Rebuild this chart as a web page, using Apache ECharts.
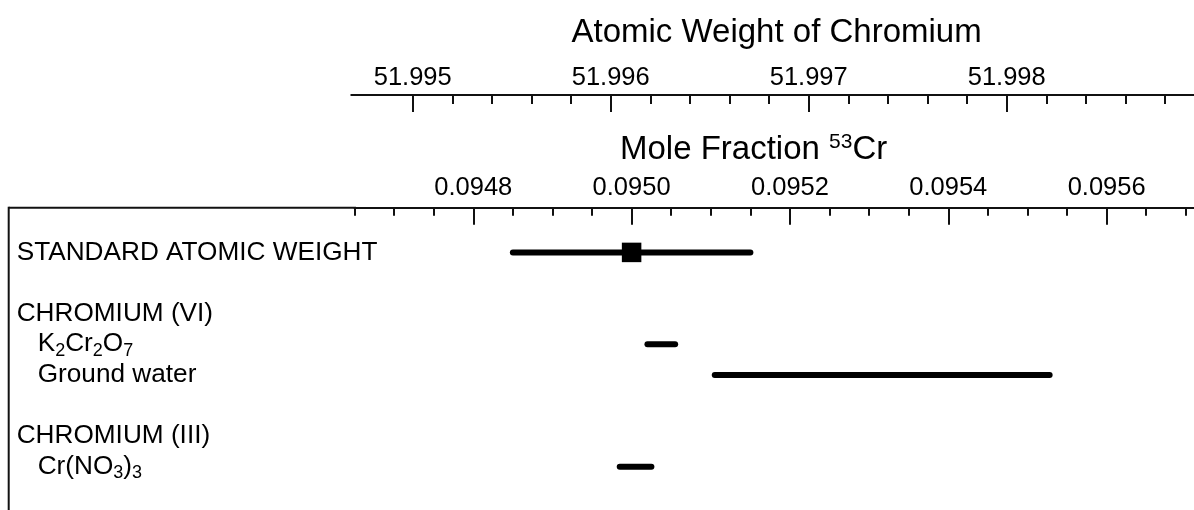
<!DOCTYPE html>
<html><head><meta charset="utf-8">
<script src="https://cdn.jsdelivr.net/npm/echarts@6/dist/echarts.min.js"></script>
<style>html,body{margin:0;padding:0;background:#fff}#c{width:1194px;height:510px}</style>
</head><body><div id="c"></div>
<script>
// Row labels (top to bottom); '' = blank spacer row; "_d" marks a subscript digit
const rowLabels = ['STANDARD ATOMIC WEIGHT', '', 'CHROMIUM (VI)', 'K_2Cr_2O_7', 'Ground water', '', 'CHROMIUM (III)', 'Cr(NO_3)_3'];
const rowLevel = [0, 0, 0, 1, 1, 0, 0, 1]; // 0 = heading, 1 = sub-item
// Ranges of the mole fraction of 53Cr
const rangeLow  = [0.09485, 0.09502, 0.095105, 0.094985];
const rangeHigh = [0.09515, 0.095055, 0.095528, 0.095025];
const rangeRow  = [0, 3, 4, 7];
// Standard atomic weight marker (mole fraction)
const stdValue = [0.09500];
const stdRow = [0];
// Axis tick labels
const moleTicks = [0.0948, 0.0950, 0.0952, 0.0954, 0.0956];
const weightTicks = [51.995, 51.996, 51.997, 51.998];

const FONT = 'Liberation Sans, Arial, sans-serif';
const INK = '#111';
const rowIdx = rowLabels.map((_, i) => i);

function richLabel(s, lvl) {
  if (!s) return '';
  const body = s.replace(/_(\d)/g, '{sub|$1}');
  return (lvl ? '{ind| }' : '') + body;
}

const chart = echarts.init(document.getElementById('c'), null, {renderer: 'canvas'});
chart.setOption({
  animation: false,
  backgroundColor: '#fff',
  title: [
    {text: 'Atomic Weight of Chromium', left: 571.5, top: 16, padding: 0,
     textStyle: {fontSize: 33, fontWeight: 'normal', color: '#000', fontFamily: FONT}},
    {text: 'Mole Fraction {sup|53}Cr', left: 620, top: 132, padding: 0,
     textStyle: {fontSize: 33, fontWeight: 'normal', color: '#000', fontFamily: FONT,
       rich: {sup: {fontSize: 21, color: '#000', fontFamily: FONT, padding: [0, 0, 15, 0]}}}}
  ],
  grid: [
    {left: 354.5, top: 207.7, width: 870.9, height: 301.9, containLabel: false, outerBoundsMode: 'none'},
    {left: 412.7, top: 95, width: 792, height: 10, containLabel: false, outerBoundsMode: 'none'}
  ],
  xAxis: [
    {gridIndex: 0, type: 'value', position: 'top', min: 0.09465, max: 0.09575, interval: 0.00005,
     axisLine: {show: true, onZero: false, lineStyle: {color: INK, width: 2}},
     axisTick: {show: true, inside: true, length: 8, lineStyle: {color: INK, width: 2}},
     axisLabel: {customValues: moleTicks, formatter: v => v.toFixed(4), fontSize: 25.5, margin: 7,
       color: '#000', fontFamily: FONT},
     splitLine: {show: false}},
    {gridIndex: 0, type: 'value', position: 'top', min: 0.09465, max: 0.09575,
     axisLine: {show: false, onZero: false},
     axisTick: {show: true, customValues: moleTicks, inside: true, length: 17, lineStyle: {color: INK, width: 2}},
     axisLabel: {show: false}, splitLine: {show: false}},
    {gridIndex: 1, type: 'value', position: 'top', min: 51.995, max: 51.999, interval: 0.001,
     axisLine: {show: true, onZero: false, lineStyle: {color: INK, width: 2}},
     axisTick: {show: true, inside: true, length: 17, lineStyle: {color: INK, width: 2}},
     minorTick: {show: true, splitNumber: 5, length: 9, lineStyle: {color: INK, width: 2}},
     axisLabel: {customValues: weightTicks, formatter: v => v.toFixed(3), fontSize: 25.5, margin: 4,
       color: '#000', fontFamily: FONT},
     splitLine: {show: false}, minorSplitLine: {show: false}}
  ],
  yAxis: [
    {gridIndex: 0, type: 'value', inverse: true, min: -1.46, max: 8.4,
     axisLine: {show: false, onZero: false}, axisTick: {show: false}, splitLine: {show: false},
     axisLabel: {customValues: rowIdx, formatter: v => richLabel(rowLabels[v], rowLevel[v]),
       align: 'left', margin: 337.8, fontSize: 26.2, color: '#000', fontFamily: FONT,
       rich: {sub: {fontSize: 18, color: '#000', fontFamily: FONT, padding: [13, 0, 0, 0]},
              ind: {width: 21, fontSize: 26}}}},
    {gridIndex: 1, type: 'value', show: false}
  ],
  graphic: [
    {type: 'line', shape: {x1: 8.7, y1: 207.7, x2: 356, y2: 207.7}, style: {stroke: INK, lineWidth: 2}},
    {type: 'line', shape: {x1: 8.7, y1: 206.7, x2: 8.7, y2: 515}, style: {stroke: INK, lineWidth: 2}},
    {type: 'line', shape: {x1: 350.5, y1: 95, x2: 414, y2: 95}, style: {stroke: INK, lineWidth: 2}}
  ],
  series: [
    {type: 'custom', xAxisIndex: 0, yAxisIndex: 0, clip: false,
     data: rangeLow.map((lo, i) => [lo, rangeHigh[i], rangeRow[i]]),
     encode: {x: [0, 1], y: 2},
     renderItem: (params, api) => {
       const a = api.coord([api.value(0), api.value(2)]);
       const b = api.coord([api.value(1), api.value(2)]);
       return {type: 'line', shape: {x1: a[0], y1: a[1], x2: b[0], y2: b[1]},
               style: {stroke: '#000', lineWidth: 6, lineCap: 'round'}};
     }},
    {type: 'scatter', xAxisIndex: 0, yAxisIndex: 0, symbol: 'rect', symbolSize: 19.5, z: 5,
     itemStyle: {color: '#000', opacity: 1},
     data: stdValue.map((v, i) => [v, stdRow[i]])}
  ]
});
</script></body></html>
